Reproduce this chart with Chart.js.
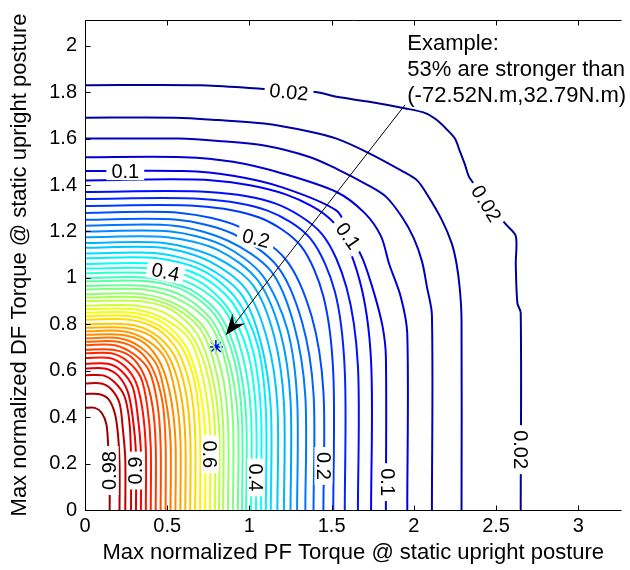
<!DOCTYPE html>
<html>
<head>
<meta charset="utf-8">
<script src="https://cdn.jsdelivr.net/npm/chart.js@4.4.1/dist/chart.umd.min.js"></script>
<style>
  html, body { margin: 0; padding: 0; background: #fff; overflow: hidden; }
  #wrap { width: 630px; height: 570px; }
</style>
</head>
<body>
<div id="wrap"><canvas id="chart" width="630" height="570"></canvas></div>
<script>
// contour levels of the joint strength surface
const levels = [0.02, 0.04, 0.06, 0.08, 0.10, 0.12, 0.14, 0.16, 0.18, 0.20,
  0.22, 0.24, 0.26, 0.28, 0.30, 0.32, 0.34, 0.36, 0.38, 0.40,
  0.42, 0.44, 0.46, 0.48, 0.50, 0.52, 0.54, 0.56, 0.58, 0.60,
  0.62, 0.64, 0.66, 0.68, 0.70, 0.72, 0.74, 0.76, 0.78, 0.80,
  0.82, 0.84, 0.86, 0.88, 0.90, 0.92, 0.94, 0.96, 0.98];

// one polyline per level, [PF, DF]
const contours = [
  [[0,1.83],[0.7,1.83],[1.07,1.815],[1.41,1.8],[1.53,1.78],[1.72,1.76],[1.95,1.73],[2.07,1.71],[2.14,1.68],[2.2,1.64],[2.25,1.6],[2.28,1.545],[2.31,1.49],[2.34,1.43],[2.45,1.33],[2.56,1.23],[2.62,1.18],[2.62,1.06],[2.63,0.89],[2.65,0.85],[2.65,0]],
  [[0,1.69],[0.55,1.69],[0.81,1.68],[1.09,1.665],[1.37,1.63],[1.53,1.6],[1.72,1.54],[1.93,1.46],[2.02,1.42],[2.08,1.36],[2.17,1.25],[2.23,1.15],[2.26,1.06],[2.28,0.95],[2.29,0.82],[2.29,0]],
  [[0,1.6],[0.57,1.6],[0.81,1.59],[1.09,1.57],[1.37,1.52],[1.53,1.47],[1.72,1.4],[1.83,1.35],[1.93,1.26],[2.0,1.17],[2.05,1.07],[2.08,0.96],[2.11,0.84],[2.11,0]],
  [[0,1.52],[0.6,1.52],[0.9,1.5],[1.2,1.45],[1.53,1.37],[1.7,1.28],[1.8,1.18],[1.85,1.06],[1.92,0.92],[1.96,0.76],[1.96,0]],
  [[0,1.46],[0.6,1.46],[0.9,1.44],[1.2,1.39],[1.53,1.29],[1.6,1.2],[1.69,1.08],[1.76,0.93],[1.81,0.79],[1.83,0.66],[1.83,0]],
  [[0,1.42],[0.78,1.42],[1.22,1.36],[1.51,1.24],[1.67,0.99],[1.74,0.64],[1.74,0]],
  [[0,1.37],[0.75,1.37],[1.16,1.32],[1.44,1.19],[1.59,0.96],[1.66,0.62],[1.66,0]],
  [[0,1.34],[0.71,1.34],[1.11,1.29],[1.37,1.17],[1.52,0.94],[1.58,0.6],[1.58,0]],
  [[0,1.31],[0.68,1.31],[1.06,1.26],[1.31,1.14],[1.45,0.92],[1.51,0.59],[1.51,0]],
  [[0,1.28],[0.58,1.28],[0.94,1.22],[1.22,1.08],[1.38,0.83],[1.45,0.51],[1.45,0]],
  [[0,1.25],[0.56,1.25],[0.9,1.19],[1.17,1.05],[1.32,0.81],[1.39,0.5],[1.39,0]],
  [[0,1.225],[0.54,1.225],[0.87,1.16],[1.13,1.03],[1.27,0.8],[1.34,0.49],[1.34,0]],
  [[0,1.2],[0.52,1.2],[0.84,1.14],[1.08,1.01],[1.23,0.78],[1.29,0.48],[1.29,0]],
  [[0,1.175],[0.5,1.175],[0.81,1.12],[1.05,0.99],[1.19,0.76],[1.25,0.47],[1.25,0]],
  [[0,1.15],[0.48,1.15],[0.79,1.09],[1.02,0.97],[1.15,0.75],[1.21,0.46],[1.21,0]],
  [[0,1.13],[0.47,1.13],[0.76,1.07],[0.98,0.95],[1.11,0.73],[1.17,0.45],[1.17,0]],
  [[0,1.105],[0.45,1.105],[0.73,1.05],[0.95,0.93],[1.07,0.72],[1.13,0.44],[1.13,0]],
  [[0,1.085],[0.44,1.085],[0.72,1.03],[0.92,0.91],[1.05,0.71],[1.1,0.43],[1.1,0]],
  [[0,1.06],[0.43,1.06],[0.7,1.01],[0.9,0.89],[1.02,0.69],[1.07,0.42],[1.07,0]],
  [[0,1.04],[0.42,1.04],[0.68,0.99],[0.87,0.87],[0.99,0.68],[1.04,0.42],[1.04,0]],
  [[0,1.02],[0.4,1.02],[0.66,0.97],[0.85,0.86],[0.96,0.66],[1.01,0.41],[1.01,0]],
  [[0,1.0],[0.39,1.0],[0.64,0.95],[0.82,0.84],[0.93,0.65],[0.98,0.4],[0.98,0]],
  [[0,0.985],[0.38,0.985],[0.62,0.94],[0.8,0.83],[0.91,0.64],[0.955,0.39],[0.955,0]],
  [[0,0.965],[0.37,0.965],[0.6,0.92],[0.78,0.81],[0.88,0.63],[0.93,0.39],[0.93,0]],
  [[0,0.95],[0.36,0.95],[0.59,0.9],[0.76,0.8],[0.86,0.62],[0.9,0.38],[0.9,0]],
  [[0,0.93],[0.35,0.93],[0.57,0.88],[0.73,0.78],[0.83,0.6],[0.87,0.37],[0.87,0]],
  [[0,0.915],[0.34,0.915],[0.55,0.87],[0.71,0.77],[0.8,0.59],[0.84,0.37],[0.84,0]],
  [[0,0.9],[0.33,0.9],[0.53,0.86],[0.68,0.76],[0.77,0.59],[0.815,0.36],[0.815,0]],
  [[0,0.88],[0.32,0.88],[0.51,0.84],[0.66,0.74],[0.75,0.57],[0.79,0.35],[0.79,0]],
  [[0,0.865],[0.3,0.865],[0.49,0.82],[0.64,0.73],[0.72,0.56],[0.76,0.35],[0.76,0]],
  [[0,0.85],[0.29,0.85],[0.47,0.81],[0.61,0.71],[0.69,0.55],[0.73,0.34],[0.73,0]],
  [[0,0.835],[0.28,0.835],[0.46,0.79],[0.59,0.7],[0.67,0.54],[0.7,0.33],[0.7,0]],
  [[0,0.82],[0.27,0.82],[0.44,0.78],[0.56,0.69],[0.64,0.53],[0.67,0.33],[0.67,0]],
  [[0,0.8],[0.26,0.8],[0.42,0.76],[0.54,0.67],[0.61,0.52],[0.64,0.32],[0.64,0]],
  [[0,0.785],[0.24,0.785],[0.4,0.75],[0.51,0.66],[0.58,0.51],[0.61,0.31],[0.61,0]],
  [[0,0.77],[0.23,0.77],[0.38,0.73],[0.49,0.65],[0.55,0.5],[0.58,0.31],[0.58,0]],
  [[0,0.755],[0.22,0.755],[0.36,0.72],[0.46,0.63],[0.52,0.49],[0.55,0.3],[0.55,0]],
  [[0,0.74],[0.21,0.74],[0.34,0.7],[0.44,0.62],[0.49,0.48],[0.52,0.3],[0.52,0]],
  [[0,0.725],[0.2,0.725],[0.32,0.69],[0.41,0.61],[0.47,0.47],[0.49,0.29],[0.49,0]],
  [[0,0.71],[0.18,0.71],[0.3,0.67],[0.39,0.6],[0.44,0.46],[0.46,0.28],[0.46,0]],
  [[0,0.69],[0.17,0.69],[0.28,0.66],[0.36,0.58],[0.41,0.45],[0.43,0.28],[0.43,0]],
  [[0,0.675],[0.16,0.675],[0.26,0.64],[0.34,0.57],[0.38,0.44],[0.4,0.27],[0.4,0]],
  [[0,0.655],[0.15,0.655],[0.24,0.62],[0.31,0.55],[0.35,0.43],[0.37,0.26],[0.37,0]],
  [[0,0.63],[0.14,0.63],[0.22,0.6],[0.29,0.53],[0.32,0.41],[0.34,0.25],[0.34,0]],
  [[0,0.61],[0.12,0.61],[0.2,0.58],[0.26,0.51],[0.29,0.4],[0.31,0.24],[0.31,0]],
  [[0,0.58],[0.11,0.58],[0.18,0.55],[0.24,0.49],[0.27,0.38],[0.28,0.23],[0.28,0]],
  [[0,0.545],[0.1,0.545],[0.16,0.52],[0.21,0.46],[0.23,0.35],[0.245,0.22],[0.245,0]],
  [[0,0.5],[0.08,0.5],[0.14,0.48],[0.18,0.42],[0.2,0.33],[0.21,0.2],[0.21,0]],
  [[0,0.44],[0.06,0.44],[0.1,0.42],[0.13,0.37],[0.14,0.29],[0.15,0.18],[0.15,0]]
];

const xTicks = [0, 0.5, 1, 1.5, 2, 2.5, 3];
const yTicks = [0, 0.2, 0.4, 0.6, 0.8, 1, 1.2, 1.4, 1.6, 1.8, 2];

// inline contour labels: text, position, rotation in degrees
const labelText = ['0.02', '0.02', '0.02', '0.1', '0.1', '0.1', '0.2', '0.2', '0.4', '0.4', '0.6', '0.9', '0.98'];
const labelPos = [[1.24, 1.8], [2.44, 1.32], [2.65, 0.26], [0.245, 1.46], [1.6, 1.18], [1.84, 0.12],
  [1.04, 1.17], [1.45, 0.19], [0.49, 1.025], [1.04, 0.14], [0.76, 0.24], [0.31, 0.17], [0.15, 0.17]];
const labelRot = [6, 58, 90, 0, 55, 90, 14, 90, 12, 90, 90, -90, -90];

// worked example
const examplePoint = [0.796, 0.702];
const arrowTail = [1.946, 1.745];
const arrowTip = [0.856, 0.753];
const exampleLines = ['Example:', '53% are stronger than', '(-72.52N.m,32.79N.m)'];
const exampleAnchor = [1.96, 1.983];

function jet(v) {
  const c = t => Math.round(255 * Math.min(1, Math.max(0, 1.5 - Math.abs(4 * v - t))));
  return 'rgb(' + c(3) + ',' + c(2) + ',' + c(1) + ')';
}

// "1" rather than "1.0"
const tickText = v => String(Number(v.toFixed(2)));

Chart.defaults.font.family = "'Liberation Sans', Arial, sans-serif";
Chart.defaults.color = '#000';

const datasets = contours.map((pts, i) => ({
  data: pts.map(p => ({ x: p[0], y: p[1] })),
  showLine: true,
  borderColor: jet(levels[i]),
  borderWidth: 2,
  pointRadius: 0,
  tension: 0.3,
  fill: false
}));
datasets.push({
  data: [{ x: examplePoint[0], y: examplePoint[1] }],
  showLine: false,
  pointStyle: 'star',
  pointRadius: 7,
  borderColor: '#0000ff',
  borderWidth: 1.5
});

const contourLabels = {
  id: 'contourLabels',
  afterDatasetsDraw(chart) {
    const { ctx, scales: { x, y } } = chart;
    ctx.save();
    ctx.font = '20px "Liberation Sans", Arial, sans-serif';
    ctx.textAlign = 'center';
    ctx.textBaseline = 'middle';
    labelText.forEach((t, i) => {
      const px = x.getPixelForValue(labelPos[i][0]);
      const py = y.getPixelForValue(labelPos[i][1]);
      const w = ctx.measureText(t).width;
      ctx.save();
      ctx.translate(px, py);
      ctx.rotate(labelRot[i] * Math.PI / 180);
      ctx.fillStyle = '#fff';
      ctx.fillRect(-w / 2 - 5, -9, w + 10, 18);
      ctx.fillStyle = '#000';
      ctx.fillText(t, 0, 1);
      ctx.restore();
    });
    ctx.restore();
  }
};

const exampleNote = {
  id: 'exampleNote',
  afterDatasetsDraw(chart) {
    const { ctx, scales: { x, y } } = chart;
    const x0 = x.getPixelForValue(arrowTail[0]), y0 = y.getPixelForValue(arrowTail[1]);
    const x1 = x.getPixelForValue(arrowTip[0]), y1 = y.getPixelForValue(arrowTip[1]);
    const ang = Math.atan2(y1 - y0, x1 - x0);
    ctx.save();
    ctx.strokeStyle = '#000';
    ctx.lineWidth = 1;
    ctx.beginPath();
    ctx.moveTo(x0, y0);
    ctx.lineTo(x1 - 12 * Math.cos(ang), y1 - 12 * Math.sin(ang));
    ctx.stroke();
    // barbed head
    ctx.translate(x1, y1);
    ctx.rotate(ang);
    ctx.fillStyle = '#000';
    ctx.beginPath();
    ctx.moveTo(0, 0);
    ctx.lineTo(-21, -8);
    ctx.lineTo(-14, 0);
    ctx.lineTo(-21, 8);
    ctx.closePath();
    ctx.fill();
    ctx.restore();

    ctx.save();
    ctx.font = '22px "Liberation Sans", Arial, sans-serif';
    ctx.fillStyle = '#000';
    ctx.textAlign = 'left';
    ctx.textBaseline = 'alphabetic';
    const tx = x.getPixelForValue(exampleAnchor[0]);
    const ty = y.getPixelForValue(exampleAnchor[1]);
    exampleLines.forEach((s, i) => ctx.fillText(s, tx, ty + i * 26));
    ctx.restore();
  }
};

const axisFrame = {
  id: 'axisFrame',
  afterDraw(chart) {
    const { ctx, chartArea: a, scales: { x, y } } = chart;
    const L = Math.round(a.left) + 0.5, B = Math.round(a.bottom) + 0.5, T = Math.round(a.top) + 0.5;
    ctx.save();
    ctx.strokeStyle = '#000';
    ctx.lineWidth = 1;
    ctx.beginPath();
    ctx.moveTo(a.right, T); ctx.lineTo(L, T); ctx.lineTo(L, B); ctx.lineTo(a.right, B);
    xTicks.forEach(v => {
      const px = Math.round(x.getPixelForValue(v)) + 0.5;
      ctx.moveTo(px, B); ctx.lineTo(px, B - 5);
      ctx.moveTo(px, T); ctx.lineTo(px, T + 5);
    });
    yTicks.forEach(v => {
      const py = Math.round(y.getPixelForValue(v)) + 0.5;
      ctx.moveTo(L, py); ctx.lineTo(L + 5, py);
    });
    ctx.stroke();
    ctx.restore();
  }
};

new Chart(document.getElementById('chart'), {
  type: 'scatter',
  data: { datasets },
  options: {
    responsive: false,
    animation: false,
    layout: { padding: { left: 0, right: 0, top: 14, bottom: 0 } },
    plugins: { legend: { display: false }, tooltip: { enabled: false } },
    scales: {
      x: {
        type: 'linear', min: 0, max: 3.263,
        grid: { display: false, drawTicks: false },
        border: { display: false },
        ticks: { stepSize: 0.5, includeBounds: false, maxRotation: 0, padding: 4, font: { size: 20 }, callback: tickText },
        title: { display: true, text: 'Max normalized PF Torque @ static upright posture', font: { size: 22 }, padding: { top: 0, bottom: 4 } },
        afterFit: s => { s.height = 60; }
      },
      y: {
        type: 'linear', min: 0, max: 2.111,
        grid: { display: false, drawTicks: false },
        border: { display: false },
        ticks: { stepSize: 0.2, includeBounds: false, padding: 8, font: { size: 20 }, callback: tickText },
        title: { display: true, text: 'Max normalized DF Torque @ static upright posture', font: { size: 22 }, padding: { top: 7, bottom: 0 } },
        afterFit: s => { s.width = 85; }
      }
    }
  },
  plugins: [contourLabels, exampleNote, axisFrame]
});
</script>
</body>
</html>
